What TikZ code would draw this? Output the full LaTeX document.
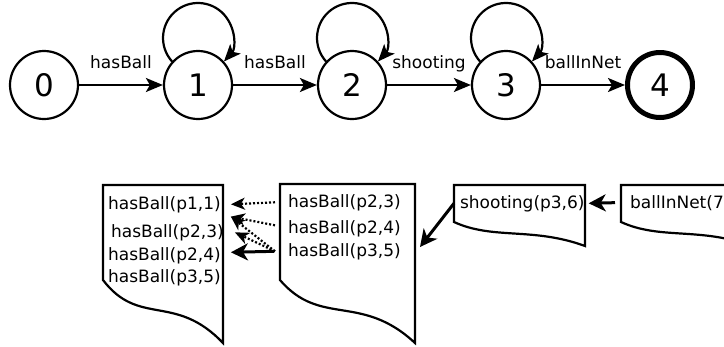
\documentclass[tikz,border=0pt]{standalone}
\usepackage{fontspec}
\setmainfont{DejaVu Sans}
\usetikzlibrary{arrows.meta}

\begin{document}
\begin{tikzpicture}[x=1pt, y=1pt, line width=2.2pt,
    statenode/.style={draw, circle, minimum size=68pt, inner sep=0pt, font=\fontsize{31}{36}\selectfont},
    lbl/.style={anchor=base, yshift=17pt, inner sep=0pt, font=\fontsize{17}{20}\selectfont},
    fact/.style={anchor=base west, inner sep=0pt, font=\fontsize{17}{20}\selectfont},
    edgearrow/.style={-{Stealth[length=17pt, width=14pt, inset=4pt]}},
    selfloop/.style={edgearrow, to path={(\tikztostart.center) ++(-25.9,23.5) arc[start angle=222.2, end angle=-42.2, radius=35] \tikztonodes}},
    dotarrow/.style={dash pattern=on 2pt off 2pt, -{Stealth[length=14pt, width=12pt, inset=4pt]}},
    bigarrow/.style={line width=3pt, -{Stealth[length=17pt, width=17pt, inset=5pt]}}]
    \useasboundingbox (0,0) rectangle (724,-346);
    \clip (0,0) rectangle (724,-346);

    % Automaton
    \foreach \i/\x in {0/44, 1/198, 2/352, 3/506}
    {
        \node[statenode] (n\i) at (\x,-85) {\i};
    }
    \node[statenode, line width=5pt, minimum size=65pt] (n4) at (660,-85) {4};

    \draw[edgearrow] (n0) -- node[lbl] {hasBall} (n1);
    \draw[edgearrow] (n1) -- node[lbl] {hasBall} (n2);
    \draw[edgearrow] (n2) -- node[lbl] {shooting} (n3);
    \draw[edgearrow] (n3) -- node[lbl] {ballInNet} (n4);
    \foreach \i in {1, 2, 3}
    {
        \path (n\i) edge[selfloop] (n\i);
    }

    % Pages of facts
    \draw (103,-185) -- (223,-185) -- (223,-343) .. controls (175,-292.6) and (139,-327.25) .. (103,-280) -- cycle;
    \draw (280,-184) -- (415,-184) -- (415,-343) .. controls (361,-292.6) and (320.5,-327.25) .. (280,-280) -- cycle;
    \draw (454,-185) -- (585,-185) -- (585,-246) .. controls (532.6,-226.8) and (493.3,-240) .. (454,-222) -- cycle;
    \draw (621,-185) -- (752,-185) -- (752,-246) .. controls (699.6,-226.8) and (660.3,-240) .. (621,-222) -- cycle;

    \node[fact] (a1) at (107,-209) {hasBall(p1,1)};
    \node[fact] (a2) at (110,-237) {hasBall(p2,3)};
    \node[fact] (a3) at (107,-260) {hasBall(p2,4)};
    \node[fact] (a4) at (107,-282) {hasBall(p3,5)};

    \node[fact] (b1) at (287,-207) {hasBall(p2,3)};
    \node[fact] (b2) at (287,-233) {hasBall(p2,4)};
    \node[fact] (b3) at (287,-256) {hasBall(p3,5)};

    \node[fact] (c1) at (459,-208) {shooting(p3,6)};
    \node[fact] (d1) at (629,-208) {ballInNet(7};
    \coordinate (pageb) at (420,-247);

    % Going back through the pages
    \draw[bigarrow] ([xshift=-14pt]d1.west) -- ([xshift=3pt]c1.east);
    \draw[bigarrow] ([xshift=-5pt]c1.west) -- (pageb);

    \draw[dotarrow] ([xshift=-12pt]b1.west) -- ([xshift=9pt]a1.east);
    \draw[dotarrow] ([xshift=-12pt, yshift=3pt]b2.west) -- ([xshift=9pt, yshift=-3pt]a1.south east);
    \draw[dotarrow] ([xshift=-12pt]b3.west) -- ([xshift=9pt, yshift=-3pt]a1.south east);
    \draw[dotarrow] ([xshift=-12pt]b3.west) -- ([xshift=10pt]a2.east);
    \draw[bigarrow] ([xshift=-13pt]b3.west) -- ([xshift=9pt, yshift=3pt]a3.east);
\end{tikzpicture}
\end{document}
